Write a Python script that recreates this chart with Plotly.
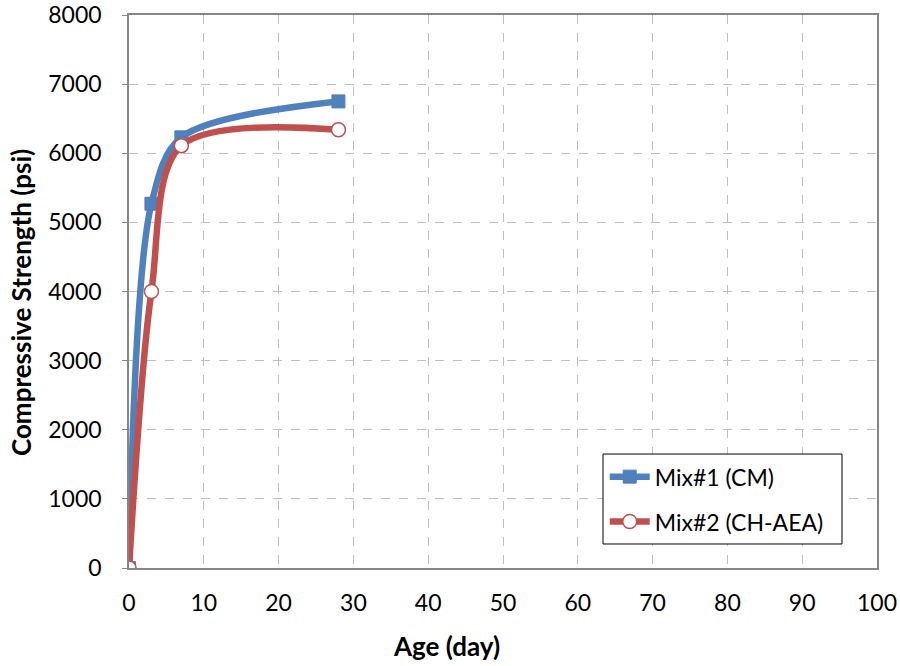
import plotly.graph_objects as go

# Compressive strength development of two mixes
age_days = [0, 3, 7, 28]
mix1_cm = [0, 5270, 6230, 6750]
mix2_ch_aea = [0, 4000, 6110, 6340]

x_ticks = list(range(0, 101, 10))
y_ticks = list(range(0, 8001, 1000))

BLUE = "#4F81BD"
RED = "#C0504D"
FONT = "Lato, Open Sans, sans-serif"

fig = go.Figure()
fig.add_trace(go.Scatter(
    x=age_days, y=mix1_cm, name="Mix#1 (CM)", legendgroup="m1",
    mode="lines+markers",
    line=dict(color=BLUE, width=6.5, shape="spline", smoothing=0.9),
    marker=dict(symbol="square", size=13, color=BLUE,
                line=dict(color=BLUE, width=1)),
))
fig.add_trace(go.Scatter(
    x=age_days, y=mix2_ch_aea, name="Mix#2 (CH-AEA)", legendgroup="m2",
    mode="lines+markers",
    line=dict(color=RED, width=6.5, shape="spline", smoothing=0.9),
    marker=dict(symbol="circle", size=14, color="white",
                line=dict(color=RED, width=1.5)),
))

grid = dict(showgrid=True, gridcolor="#BFBFBF", griddash="dash", gridwidth=1)

fig.update_xaxes(
    range=[0, 100], tickvals=x_ticks, **grid, automargin=False,
    showline=True, linecolor="#868686", linewidth=1.5, mirror=True,
    zeroline=False, ticks="", ticklabelstandoff=14,
    tickfont=dict(family=FONT, size=23, color="#000000"),
)
fig.update_yaxes(
    range=[0, 8000], tickvals=y_ticks, **grid, automargin=False,
    showline=True, linecolor="#868686", linewidth=1.5, mirror=True,
    zeroline=False, ticks="outside", ticklen=5, tickcolor="#868686",
    ticklabelstandoff=16,
    tickfont=dict(family=FONT, size=23, color="#000000"),
)

# Axis titles placed as paper-anchored annotations
title_font = dict(family=FONT, size=26, color="#000000")
fig.add_annotation(text="<b>Age (day)</b>", xref="paper", yref="paper",
                   x=0.424, y=-0.141, showarrow=False, font=title_font,
                   xanchor="center", yanchor="middle")
fig.add_annotation(text="<b>Compressive Strength (psi)</b>", xref="paper",
                   yref="paper", x=-0.1444, y=0.481, textangle=-90,
                   showarrow=False, font=title_font,
                   xanchor="center", yanchor="middle")

# Legend frame
fig.add_shape(type="rect", xref="paper", yref="paper",
              x0=0.6337, x1=0.9532, y0=0.0434, y1=0.2061,
              line=dict(color="#000000", width=1), fillcolor="white",
              layer="above")

fig.update_layout(
    width=900, height=666,
    margin=dict(l=129, r=23, t=15, b=98),
    plot_bgcolor="white", paper_bgcolor="white",
    legend=dict(
        x=0.636, y=0.204, xanchor="left", yanchor="top",
        bgcolor="rgba(0,0,0,0)", borderwidth=0,
        font=dict(family=FONT, size=23, color="#000000"),
        itemwidth=40, tracegroupgap=12,
    ),
)

fig.write_html("out.html")
